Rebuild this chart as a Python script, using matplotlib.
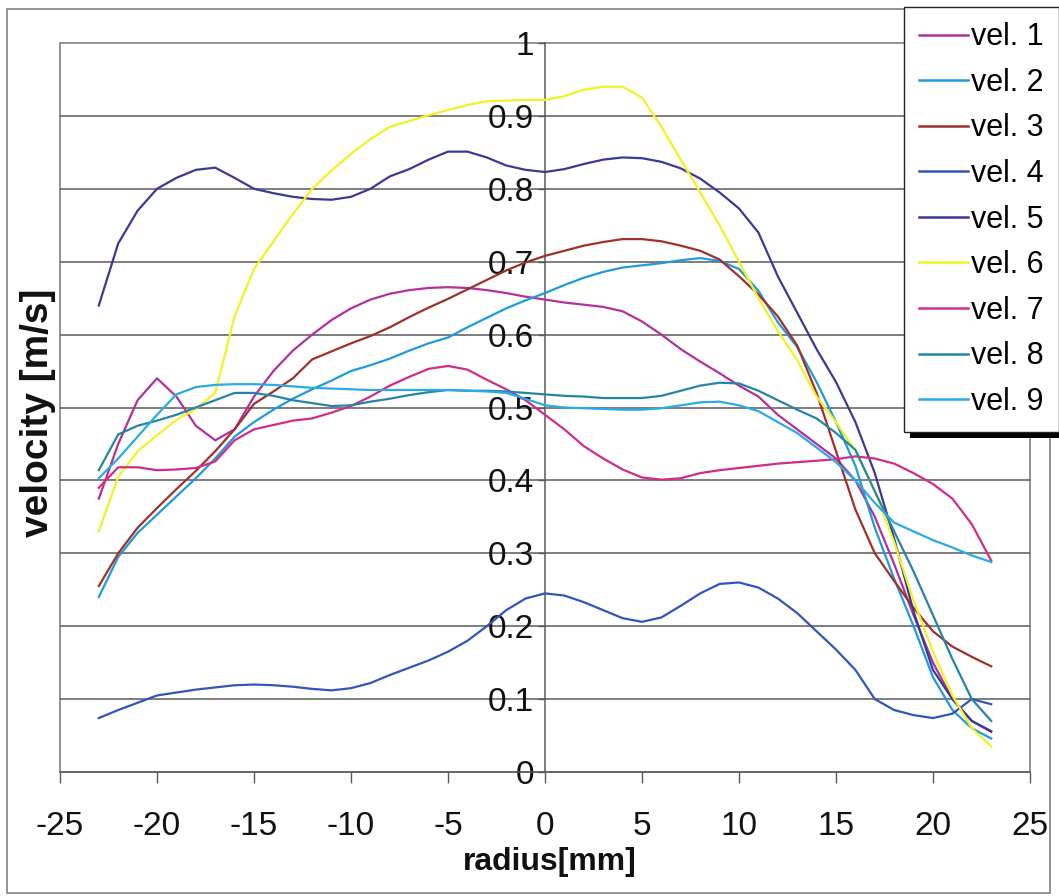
import matplotlib
matplotlib.use("Agg")
import matplotlib.pyplot as plt
from matplotlib import font_manager
from matplotlib.patches import Rectangle

# radial positions (mm) shared by all profiles
radius = list(range(-23, 24))

vel1 = [0.375, 0.45, 0.51, 0.54, 0.515, 0.475, 0.455, 0.47, 0.515, 0.55, 0.578, 0.60, 0.62, 0.636,
        0.648, 0.656, 0.661, 0.664, 0.665, 0.664, 0.661, 0.657, 0.652, 0.648, 0.644, 0.641, 0.638,
        0.632, 0.618, 0.60, 0.58, 0.563, 0.547, 0.53, 0.515, 0.49, 0.47, 0.45, 0.43, 0.40, 0.35,
        0.285, 0.215, 0.15, 0.10, 0.07, 0.055]
vel2 = [0.24, 0.295, 0.328, 0.353, 0.378, 0.403, 0.43, 0.46, 0.48, 0.497, 0.512, 0.525, 0.537, 0.55,
        0.558, 0.567, 0.578, 0.588, 0.596, 0.61, 0.623, 0.636, 0.647, 0.657, 0.668, 0.678, 0.686,
        0.692, 0.695, 0.698, 0.702, 0.705, 0.701, 0.69, 0.66, 0.617, 0.583, 0.535, 0.48, 0.42,
        0.335, 0.265, 0.20, 0.13, 0.085, 0.06, 0.046]
vel3 = [0.255, 0.30, 0.335, 0.362, 0.388, 0.413, 0.44, 0.47, 0.505, 0.522, 0.54, 0.566, 0.577, 0.588,
        0.598, 0.61, 0.624, 0.637, 0.649, 0.662, 0.675, 0.688, 0.699, 0.708, 0.715, 0.722, 0.727,
        0.731, 0.731, 0.728, 0.722, 0.715, 0.703, 0.68, 0.655, 0.625, 0.585, 0.52, 0.44, 0.36,
        0.30, 0.262, 0.225, 0.193, 0.172, 0.158, 0.145]
vel4 = [0.074, 0.085, 0.095, 0.105, 0.109, 0.113, 0.116, 0.119, 0.12, 0.119, 0.117, 0.114, 0.112,
        0.115, 0.122, 0.133, 0.143, 0.153, 0.165, 0.18, 0.20, 0.222, 0.238, 0.245, 0.242, 0.233,
        0.222, 0.211, 0.206, 0.212, 0.228, 0.245, 0.258, 0.26, 0.253, 0.238, 0.218, 0.193, 0.168,
        0.14, 0.10, 0.085, 0.078, 0.074, 0.08, 0.10, 0.093]
vel5 = [0.64, 0.725, 0.77, 0.80, 0.815, 0.826, 0.829, 0.815, 0.80, 0.794, 0.789, 0.786, 0.785, 0.789,
        0.80, 0.817, 0.827, 0.84, 0.851, 0.851, 0.843, 0.832, 0.826, 0.823, 0.827, 0.834, 0.84,
        0.843, 0.842, 0.837, 0.828, 0.814, 0.795, 0.773, 0.74, 0.68, 0.63, 0.58, 0.535, 0.48, 0.41,
        0.32, 0.22, 0.14, 0.10, 0.07, 0.056]
vel6 = [0.33, 0.405, 0.44, 0.462, 0.483, 0.498, 0.52, 0.625, 0.69, 0.728, 0.765, 0.80, 0.825, 0.848,
        0.868, 0.885, 0.893, 0.901, 0.908, 0.915, 0.92, 0.921, 0.922, 0.922, 0.927, 0.936, 0.94,
        0.94, 0.925, 0.885, 0.84, 0.795, 0.75, 0.70, 0.65, 0.605, 0.565, 0.515, 0.48, 0.44, 0.385,
        0.315, 0.235, 0.165, 0.105, 0.06, 0.035]
vel7 = [0.39, 0.418, 0.418, 0.414, 0.415, 0.417, 0.426, 0.455, 0.47, 0.476, 0.482, 0.485, 0.493,
        0.502, 0.515, 0.53, 0.542, 0.553, 0.557, 0.552, 0.538, 0.525, 0.51, 0.49, 0.47, 0.447, 0.43,
        0.415, 0.404, 0.401, 0.403, 0.41, 0.414, 0.417, 0.42, 0.423, 0.425, 0.427, 0.429, 0.433,
        0.43, 0.423, 0.41, 0.395, 0.375, 0.34, 0.29]
vel8 = [0.414, 0.463, 0.475, 0.482, 0.49, 0.50, 0.51, 0.52, 0.52, 0.516, 0.51, 0.506, 0.502, 0.503,
        0.508, 0.512, 0.517, 0.521, 0.524, 0.523, 0.523, 0.522, 0.52, 0.518, 0.516, 0.515, 0.513,
        0.513, 0.513, 0.516, 0.523, 0.53, 0.534, 0.533, 0.523, 0.51, 0.497, 0.485, 0.465, 0.442,
        0.385, 0.33, 0.275, 0.215, 0.155, 0.10, 0.07]
vel9 = [0.403, 0.43, 0.46, 0.49, 0.518, 0.528, 0.531, 0.532, 0.532, 0.531, 0.529, 0.527, 0.526,
        0.525, 0.524, 0.524, 0.524, 0.524, 0.524, 0.523, 0.522, 0.52, 0.512, 0.503, 0.50, 0.499,
        0.498, 0.497, 0.497, 0.499, 0.503, 0.507, 0.508, 0.503, 0.495, 0.48, 0.465, 0.445, 0.425,
        0.40, 0.369, 0.342, 0.33, 0.318, 0.308, 0.297, 0.288]

series_names = ["vel. 1", "vel. 2", "vel. 3", "vel. 4", "vel. 5",
                "vel. 6", "vel. 7", "vel. 8", "vel. 9"]
series_values = [vel1, vel2, vel3, vel4, vel5, vel6, vel7, vel8, vel9]
series_colors = ["#B4309A", "#1E9BDC", "#A0302A", "#3355BB", "#3A3A96",
                 "#F2F222", "#D02C88", "#2585A5", "#2AAAE6"]

x_ticks = [-25, -20, -15, -10, -5, 0, 5, 10, 15, 20, 25]
y_ticks = [0, 0.1, 0.2, 0.3, 0.4, 0.5, 0.6, 0.7, 0.8, 0.9, 1.0]
y_tick_labels = ["0", "0.1", "0.2", "0.3", "0.4", "0.5", "0.6", "0.7", "0.8", "0.9", "1"]

# narrow sans face for numbers and legend, falling back to the regular one
available = {f.name for f in font_manager.fontManager.ttflist}
narrow = "Liberation Sans Narrow" if "Liberation Sans Narrow" in available else "Liberation Sans"

W, H = 1059, 896
fig = plt.figure(figsize=(W / 100, H / 100), dpi=100, facecolor="white")

# chart frame around everything
fig.add_artist(Rectangle((7 / W, 1 - 893 / H), (1050 - 7) / W, (893 - 9) / H,
                         transform=fig.transFigure, fill=False,
                         edgecolor="#808080", linewidth=1.2, zorder=0))

ax = fig.add_axes([60 / W, 1 - 772 / H, 970 / W, 729 / H])
ax.set_xlim(-25, 25)
ax.set_ylim(0, 1)

# plot area border
ax.patch.set_edgecolor("#808080")
ax.patch.set_linewidth(1.2)

# horizontal gridlines
for yv in y_ticks[1:-1]:
    ax.axhline(yv, color="#5a5a5a", linewidth=1.1, zorder=1)

for name, vals, col in zip(series_names, series_values, series_colors):
    ax.plot(radius, vals, color=col, linewidth=1.6, label=name, zorder=3,
            solid_joinstyle="round")

# value axis crosses at radius 0
ax.spines["left"].set_position(("data", 0))
ax.spines["left"].set_color("#5a5a5a")
ax.spines["left"].set_linewidth(1.1)
ax.spines["bottom"].set_color("#5a5a5a")
ax.spines["bottom"].set_linewidth(1.1)
ax.spines["top"].set_visible(False)
ax.spines["right"].set_visible(False)

ax.set_xticks(x_ticks)
ax.set_xticklabels([str(v) for v in x_ticks])
ax.set_yticks(y_ticks)
ax.set_yticklabels(y_tick_labels)
ax.tick_params(axis="x", direction="out", length=8, width=1, color="#5a5a5a",
               pad=20, labelsize=24)
ax.tick_params(axis="y", direction="out", length=5, width=1, color="#5a5a5a",
               pad=3, labelsize=24)
for lab in ax.get_xticklabels() + ax.get_yticklabels():
    lab.set_fontfamily(narrow)
    lab.set_color("#111111")

fig.text(550 / W, 1 - 862 / H, "radius[mm]", ha="center", va="center",
         fontsize=23, fontweight="bold", family=narrow, color="#111111")
fig.text(38 / W, 1 - 413 / H, "velocity [m/s]", ha="center", va="center",
         rotation=90, fontsize=28, fontweight="bold", family="Liberation Sans",
         color="#111111")

leg = fig.legend(loc="upper left", bbox_to_anchor=(904 / W, 1 - 7 / H),
                 bbox_transform=fig.transFigure, borderaxespad=0, frameon=True,
                 fancybox=False, framealpha=1, edgecolor="#222222",
                 handlelength=1.6, handletextpad=0.08, labelspacing=0.51,
                 borderpad=0.5, prop={"family": narrow, "size": 22})
leg.get_frame().set_linewidth(1.0)
leg.set_zorder(10)
for line in leg.get_lines():
    line.set_linewidth(1.8)

# drop shadow under the legend box
fig.canvas.draw()
bb = leg.get_window_extent()
fig.add_artist(Rectangle(((bb.x0 + 6) / W, (bb.y0 - 6) / H), bb.width / W, bb.height / H,
                         transform=fig.transFigure, facecolor="black",
                         edgecolor="none", zorder=9))

fig.savefig("out.png", dpi=100, facecolor="white")
